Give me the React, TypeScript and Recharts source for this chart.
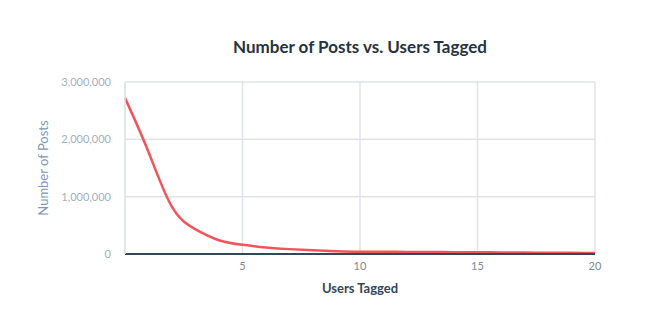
import { LineChart, Line, XAxis, YAxis, CartesianGrid } from 'recharts';

const usersTagged = [0, 1, 2, 3, 4, 5, 6, 7, 8, 9, 10, 11, 12, 13, 14, 15, 16, 17, 18, 19, 20];
const postCounts = [
  2720000, 1780000, 820000, 430000, 240000, 160000, 115000, 85000, 65000, 50000, 40000,
  38000, 36000, 34000, 32000, 30000, 27000, 25000, 22000, 20000, 18000,
];
const xTicks = [5, 10, 15, 20];
const yTicks = [0, 1000000, 2000000, 3000000];

const data = usersTagged.map((u, i) => ({ users: u, posts: postCounts[i] }));

const font = 'Lato, "Open Sans", sans-serif';
const tickStyle = { fontSize: 11, fill: '#9fb0c2', fontFamily: font };

export default function App() {
  return (
    <div style={{ position: 'absolute', left: 0, top: 0, width: 648, height: 336, background: '#fff' }}>
      <div
        style={{
          position: 'absolute', left: 125, width: 470, top: 36, textAlign: 'center',
          fontFamily: font, fontWeight: 700, fontSize: 17, color: '#253342',
        }}
      >
        Number of Posts vs. Users Tagged
      </div>
      <div
        style={{
          position: 'absolute', left: 125, width: 470, top: 280, textAlign: 'center',
          fontFamily: font, fontWeight: 700, fontSize: 13, color: '#33475b',
        }}
      >
        Users Tagged
      </div>
      <div
        style={{
          position: 'absolute', left: 43, top: 168, transform: 'translate(-50%, -50%) rotate(-90deg)',
          whiteSpace: 'nowrap', fontFamily: font, fontSize: 13, color: '#7c98b6',
        }}
      >
        Number of Posts
      </div>
      <LineChart width={648} height={336} data={data} margin={{ top: 82, right: 53, bottom: 52, left: 40 }}>
        <CartesianGrid stroke="#dfe3eb" strokeWidth={1.5} />
        <XAxis
          type="number"
          dataKey="users"
          domain={[0, 20]}
          ticks={xTicks}
          tick={{ ...tickStyle, fill: '#7c8b99' }}
          tickLine={false}
          axisLine={{ stroke: '#33475b', strokeWidth: 2 }}
          height={30}
        />
        <YAxis
          type="number"
          domain={[0, 3000000]}
          ticks={yTicks}
          tick={tickStyle}
          tickFormatter={(v: number) => v.toLocaleString('en-US')}
          tickLine={false}
          axisLine={{ stroke: '#dfe3eb', strokeWidth: 1.5 }}
          width={85}
          tickMargin={8}
        />
        <Line
          type="natural"
          dataKey="posts"
          stroke="#f2545b"
          strokeWidth={2.5}
          dot={false}
          isAnimationActive={false}
        />
      </LineChart>
    </div>
  );
}
